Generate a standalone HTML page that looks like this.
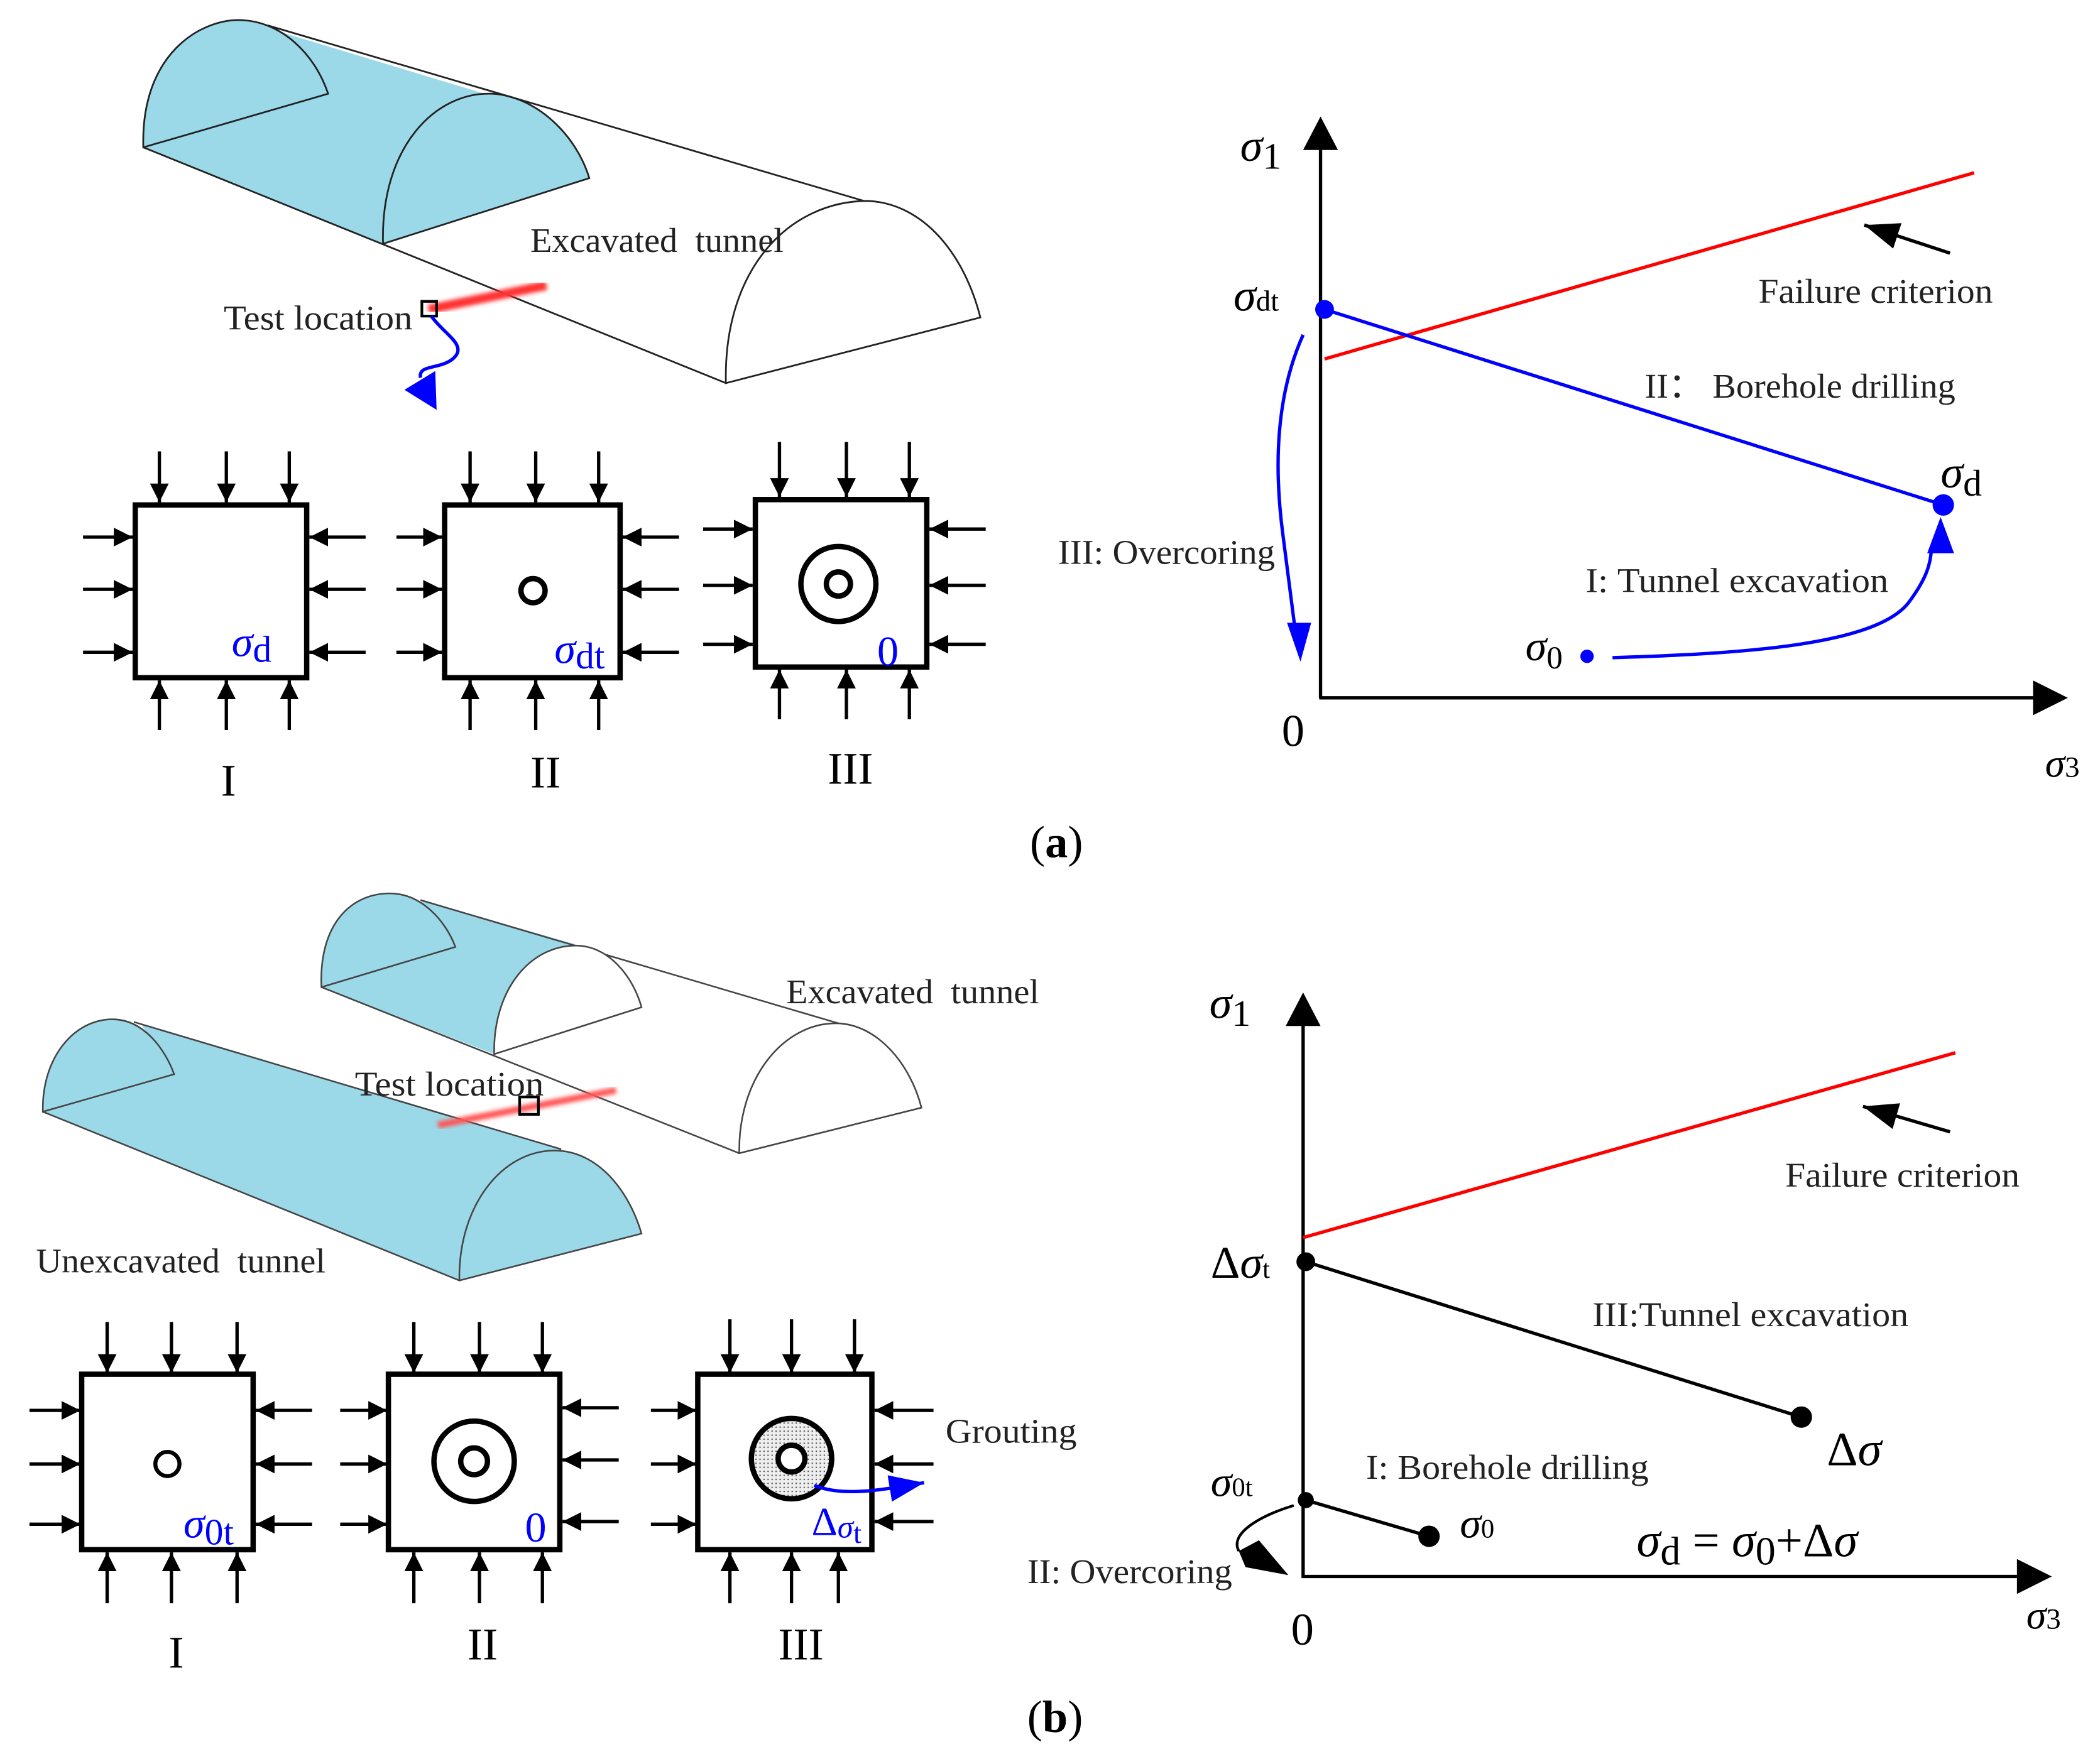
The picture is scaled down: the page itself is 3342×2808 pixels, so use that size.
<!DOCTYPE html>
<html><head><meta charset="utf-8"><style>
html,body{margin:0;padding:0;background:#fff}
svg{display:block}
text{font-family:"Liberation Serif",serif}
.t{fill:#222;font-size:26px}
.s{font-style:italic}
.b{fill:#0000ff}
</style></head><body>
<svg width="3342" height="2808" viewBox="0 0 1568 1317" preserveAspectRatio="none" xmlns="http://www.w3.org/2000/svg">
<defs>
<marker id="ah" markerUnits="userSpaceOnUse" markerWidth="16" markerHeight="16" refX="14" refY="7" orient="auto"><path d="M0,0 L14,7 L0,14 z" fill="#000"/></marker>
<marker id="ab" markerUnits="userSpaceOnUse" markerWidth="30" markerHeight="24" refX="26" refY="10" orient="auto"><path d="M0,0 L26,10 L0,20 z" fill="#0000ff"/></marker>
<marker id="ak" markerUnits="userSpaceOnUse" markerWidth="30" markerHeight="24" refX="26" refY="10" orient="auto"><path d="M0,0 L26,10 L0,20 z" fill="#000"/></marker>
<pattern id="dots" width="3" height="3" patternUnits="userSpaceOnUse"><rect width="3" height="3" fill="#eee"/><rect width="1" height="1" fill="#555"/></pattern>
<filter id="blur"><feGaussianBlur stdDeviation="1.5"/></filter>
</defs>

<!-- ===== (a) tunnel ===== -->
<path d="M107,110 C105,40 150,14 180,15 L395,80 C420,95 435,115 440,133 L286,182 Z" fill="#9bd9e9"/>
<path d="M107,110 C105,40 150,14 180,15 C210,16 235,40 245,70 Z" fill="#9bd9e9" stroke="#222" stroke-width="1.3"/>
<path d="M286,182 C284,110 325,68 368,70 C400,72 430,100 440,133 Z" fill="#9bd9e9" stroke="#222" stroke-width="1.3"/>
<path d="M200,19 L645,150 M107,110 L542,286" stroke="#222" stroke-width="1.3" fill="none"/>
<path d="M542,286 C540,200 590,150 648,150 C690,152 720,190 732,237 Z" fill="#fff" stroke="#222" stroke-width="1.3"/>
<line x1="320" y1="231" x2="408" y2="213" stroke="#f33" stroke-width="7" filter="url(#blur)"/>
<rect x="315" y="225" width="11" height="11" fill="none" stroke="#000" stroke-width="2"/>
<path d="M322,236 C332,250 350,258 338,268 C328,276 312,272 314,282" stroke="#0000ff" stroke-width="2.5" fill="none"/>
<path d="M302,291 L325,277 L326,306 Z" fill="#0000ff"/>
<text class="t" x="167" y="246" textLength="141" lengthAdjust="spacingAndGlyphs">Test location</text>
<text class="t" x="396" y="188" fill="#333" textLength="189" lengthAdjust="spacingAndGlyphs">Excavated&#160; tunnel</text>

<!-- ===== (a) boxes ===== -->
<g stroke="#000" stroke-width="2.5" marker-end="url(#ah)">
<line x1="119" y1="337" x2="119" y2="375"/><line x1="169" y1="337" x2="169" y2="375"/><line x1="216" y1="337" x2="216" y2="375"/>
<line x1="119" y1="545" x2="119" y2="508"/><line x1="169" y1="545" x2="169" y2="508"/><line x1="216" y1="545" x2="216" y2="508"/>
<line x1="62" y1="401" x2="99" y2="401"/><line x1="62" y1="440" x2="99" y2="440"/><line x1="62" y1="487" x2="99" y2="487"/>
<line x1="273" y1="401" x2="231" y2="401"/><line x1="273" y1="440" x2="231" y2="440"/><line x1="273" y1="487" x2="231" y2="487"/>

<line x1="351" y1="337" x2="351" y2="375"/><line x1="400" y1="337" x2="400" y2="375"/><line x1="447" y1="337" x2="447" y2="375"/>
<line x1="351" y1="545" x2="351" y2="508"/><line x1="400" y1="545" x2="400" y2="508"/><line x1="447" y1="545" x2="447" y2="508"/>
<line x1="296" y1="401" x2="330" y2="401"/><line x1="296" y1="440" x2="330" y2="440"/><line x1="296" y1="487" x2="330" y2="487"/>
<line x1="507" y1="401" x2="465" y2="401"/><line x1="507" y1="440" x2="465" y2="440"/><line x1="507" y1="487" x2="465" y2="487"/>

<line x1="582" y1="330" x2="582" y2="371"/><line x1="632" y1="330" x2="632" y2="371"/><line x1="679" y1="330" x2="679" y2="371"/>
<line x1="582" y1="537" x2="582" y2="500"/><line x1="632" y1="537" x2="632" y2="500"/><line x1="679" y1="537" x2="679" y2="500"/>
<line x1="525" y1="395" x2="562" y2="395"/><line x1="525" y1="437" x2="562" y2="437"/><line x1="525" y1="481" x2="562" y2="481"/>
<line x1="736" y1="395" x2="694" y2="395"/><line x1="736" y1="437" x2="694" y2="437"/><line x1="736" y1="481" x2="694" y2="481"/>
</g>
<g fill="none" stroke="#000" stroke-width="4">
<rect x="101" y="377" width="128" height="129"/>
<rect x="332" y="377" width="131" height="129"/>
<rect x="564" y="373" width="128" height="125"/>
<circle cx="398" cy="441" r="9"/>
<circle cx="626" cy="436" r="28"/><circle cx="626" cy="436" r="9"/>
</g>
<text class="b s" x="173" y="490" font-size="32">σ<tspan font-style="normal" font-size="28" dy="4">d</tspan></text>
<text class="b s" x="414" y="495" font-size="32">σ<tspan font-style="normal" font-size="28" dy="4">dt</tspan></text>
<text class="b" x="655" y="497" font-size="32">0</text>
<text x="165" y="594" font-size="34">I</text>
<text x="396" y="588" font-size="34">II</text>
<text x="618" y="585" font-size="34">III</text>
<text x="769" y="640" font-size="34">(<tspan font-weight="bold">a</tspan>)</text>

<!-- ===== (a) chart ===== -->
<line x1="986" y1="521" x2="986" y2="110" stroke="#000" stroke-width="2.5"/>
<path d="M973,112 L986,87 L999,112 Z" fill="#000"/>
<line x1="985" y1="521" x2="1518" y2="521" stroke="#000" stroke-width="2.5"/>
<path d="M1518,508 L1544,521 L1518,534 Z" fill="#000"/>
<line x1="989" y1="268" x2="1474" y2="129" stroke="#f00" stroke-width="2.5"/>
<line x1="1456" y1="189" x2="1392" y2="168" stroke="#000" stroke-width="2.5" marker-end="url(#ak)"/>
<line x1="989" y1="231" x2="1451" y2="377" stroke="#0000ff" stroke-width="2.5"/>
<circle cx="989" cy="231" r="7" fill="#0000ff"/>
<circle cx="1451" cy="377" r="8" fill="#0000ff"/>
<circle cx="1185" cy="490" r="5" fill="#0000ff"/>
<path d="M973,250 C955,290 950,340 958,400 L967,470" stroke="#0000ff" stroke-width="2.5" fill="none"/>
<path d="M961,465 L971,494 L979,465 Z" fill="#0000ff"/>
<path d="M1204,491 C1300,488 1400,482 1425,450 C1440,430 1441,420 1442,412" stroke="#0000ff" stroke-width="2.5" fill="none"/>
<path d="M1439,413 L1449,386 L1459,413 Z" fill="#0000ff"/>
<text class="s" x="926" y="120" font-size="34">σ<tspan font-style="normal" font-size="28" dy="6">1</tspan></text>
<text class="s" x="921" y="232" font-size="34">σ<tspan font-style="normal" font-size="22">dt</tspan></text>
<text x="957" y="557" font-size="34">0</text>
<text class="s" x="1527" y="580" font-size="30">σ<tspan font-style="normal" font-size="22">3</tspan></text>
<text class="t" x="1313" y="226" textLength="175" lengthAdjust="spacingAndGlyphs">Failure criterion</text>
<text class="t" x="1228" y="297" textLength="232" lengthAdjust="spacingAndGlyphs">II：&#160;Borehole drilling</text>
<text class="s" x="1449" y="364" font-size="34">σ<tspan font-style="normal" font-size="28" dy="6">d</tspan></text>
<text class="t" x="790" y="421" textLength="162" lengthAdjust="spacingAndGlyphs">III: Overcoring</text>
<text class="t" x="1184" y="442" textLength="226" lengthAdjust="spacingAndGlyphs">I:&#160;Tunnel excavation</text>
<text class="s" x="1139" y="493" font-size="32">σ<tspan font-style="normal" font-size="24" dy="6">0</tspan></text>

<!-- ===== (b) tunnels ===== -->
<path d="M240,737 C238,690 262,667 291,667 C315,667 333,688 340,707 L314,672 L440,708 C460,720 475,735 479,752 L369,787 Z" fill="#9bd9e9"/>
<path d="M240,737 C238,690 262,667 291,667 C315,667 333,688 340,707 Z" fill="#9bd9e9" stroke="#444" stroke-width="1.2"/>
<path d="M314,672 L626,764 M240,737 L552,861" stroke="#444" stroke-width="1.2" fill="none"/>
<path d="M369,787 C368,740 395,706 430,706 C455,706 473,730 479,752 Z" fill="#fff" stroke="#444" stroke-width="1.2"/>
<path d="M552,861 C551,805 585,764 624,764 C655,764 680,795 688,827 Z" fill="#fff" stroke="#444" stroke-width="1.2"/>
<path d="M32,830 C31,790 55,761 84,761 C108,761 124,785 130,802 L105,764 L419,858 L479,921 L343,956 Z" fill="#9bd9e9"/>
<path d="M32,830 C31,790 55,761 84,761 C108,761 124,785 130,802 Z" fill="#9bd9e9" stroke="#444" stroke-width="1.2"/>
<path d="M100,763 L419,858 M32,830 L343,956" stroke="#444" stroke-width="1.2" fill="none"/>
<path d="M343,956 C342,900 375,859 414,859 C447,859 470,890 479,921 Z" fill="#9bd9e9" stroke="#444" stroke-width="1.2"/>
<line x1="327" y1="840" x2="460" y2="814" stroke="#f55" stroke-width="5" filter="url(#blur)"/>
<rect x="388" y="819" width="14" height="13" fill="none" stroke="#000" stroke-width="2"/>
<text class="t" x="265" y="818" textLength="141" lengthAdjust="spacingAndGlyphs">Test location</text>
<text class="t" x="587" y="749" textLength="189" lengthAdjust="spacingAndGlyphs">Excavated&#160; tunnel</text>
<text class="t" x="27" y="950" textLength="216" lengthAdjust="spacingAndGlyphs">Unexcavated&#160; tunnel</text>

<!-- ===== (b) boxes ===== -->
<g stroke="#000" stroke-width="2.5" marker-end="url(#ah)">
<line x1="80" y1="987" x2="80" y2="1025"/><line x1="128" y1="987" x2="128" y2="1025"/><line x1="177" y1="987" x2="177" y2="1025"/>
<line x1="80" y1="1197" x2="80" y2="1159"/><line x1="128" y1="1197" x2="128" y2="1159"/><line x1="177" y1="1197" x2="177" y2="1159"/>
<line x1="22" y1="1053" x2="60" y2="1053"/><line x1="22" y1="1093" x2="60" y2="1093"/><line x1="22" y1="1138" x2="60" y2="1138"/>
<line x1="233" y1="1053" x2="191" y2="1053"/><line x1="233" y1="1093" x2="191" y2="1093"/><line x1="233" y1="1138" x2="191" y2="1138"/>

<line x1="309" y1="987" x2="309" y2="1025"/><line x1="358" y1="987" x2="358" y2="1025"/><line x1="405" y1="987" x2="405" y2="1025"/>
<line x1="309" y1="1197" x2="309" y2="1159"/><line x1="358" y1="1197" x2="358" y2="1159"/><line x1="405" y1="1197" x2="405" y2="1159"/>
<line x1="254" y1="1053" x2="289" y2="1053"/><line x1="254" y1="1093" x2="289" y2="1093"/><line x1="254" y1="1138" x2="289" y2="1138"/>
<line x1="462" y1="1051" x2="420" y2="1051"/><line x1="462" y1="1090" x2="420" y2="1090"/><line x1="462" y1="1136" x2="420" y2="1136"/>

<line x1="545" y1="985" x2="545" y2="1025"/><line x1="591" y1="985" x2="591" y2="1025"/><line x1="638" y1="985" x2="638" y2="1025"/>
<line x1="545" y1="1197" x2="545" y2="1159"/><line x1="591" y1="1197" x2="591" y2="1159"/><line x1="626" y1="1197" x2="626" y2="1159"/>
<line x1="486" y1="1053" x2="520" y2="1053"/><line x1="486" y1="1093" x2="520" y2="1093"/><line x1="486" y1="1138" x2="520" y2="1138"/>
<line x1="697" y1="1053" x2="653" y2="1053"/><line x1="697" y1="1093" x2="653" y2="1093"/><line x1="697" y1="1136" x2="653" y2="1136"/>
</g>
<g fill="none" stroke="#000" stroke-width="4">
<rect x="61" y="1026" width="128" height="131"/>
<rect x="290" y="1026" width="128" height="131"/>
<rect x="521" y="1026" width="130" height="131"/>
<circle cx="125" cy="1093" r="9" stroke-width="3"/>
<circle cx="354" cy="1091" r="30"/><circle cx="354" cy="1091" r="10"/>
<circle cx="591" cy="1089" r="30" fill="url(#dots)"/><circle cx="591" cy="1089" r="10" fill="#fff"/>
</g>
<path d="M608,1109 C630,1118 660,1112 690,1107" stroke="#0000ff" stroke-width="2.5" fill="none" marker-end="url(#ab)"/>
<text class="t" x="706" y="1077" textLength="98" lengthAdjust="spacingAndGlyphs">Grouting</text>
<text class="b s" x="137" y="1148" font-size="32">σ<tspan font-style="normal" font-size="28" dy="5">0t</tspan></text>
<text class="b" x="392" y="1151" font-size="32">0</text>
<text class="b" x="606" y="1146" font-size="30">Δ<tspan class="s" font-size="24" dy="2">σ</tspan><tspan font-size="22" dy="4">t</tspan></text>
<text x="126" y="1245" font-size="34">I</text>
<text x="349" y="1239" font-size="34">II</text>
<text x="581" y="1239" font-size="34">III</text>
<text x="767" y="1293" font-size="34">(<tspan font-weight="bold">b</tspan>)</text>

<!-- ===== (b) chart ===== -->
<line x1="973" y1="1178" x2="973" y2="764" stroke="#000" stroke-width="2.5"/>
<path d="M960,766 L973,741 L986,766 Z" fill="#000"/>
<line x1="972" y1="1177" x2="1506" y2="1177" stroke="#000" stroke-width="2.5"/>
<path d="M1506,1164 L1532,1177 L1506,1190 Z" fill="#000"/>
<line x1="973" y1="924" x2="1460" y2="786" stroke="#f00" stroke-width="2.5"/>
<line x1="1456" y1="845" x2="1391" y2="826" stroke="#000" stroke-width="2.5" marker-end="url(#ak)"/>
<line x1="975" y1="942" x2="1345" y2="1058" stroke="#000" stroke-width="2.5"/>
<circle cx="975" cy="942" r="7" fill="#000"/>
<circle cx="1345" cy="1058" r="8" fill="#000"/>
<line x1="975" y1="1120" x2="1067" y2="1147" stroke="#000" stroke-width="2.5"/>
<circle cx="975" cy="1120" r="6" fill="#000"/>
<circle cx="1067" cy="1147" r="8" fill="#000"/>
<path d="M966,1124 C940,1132 918,1145 925,1158" stroke="#000" stroke-width="2" fill="none"/>
<path d="M925,1158 L940,1150 L962,1176 L930,1170 Z" fill="#000"/>
<text class="s" x="903" y="760" font-size="34">σ<tspan font-style="normal" font-size="28" dy="6">1</tspan></text>
<text class="t" x="1333" y="886" textLength="175" lengthAdjust="spacingAndGlyphs">Failure criterion</text>
<text x="904" y="954" font-size="34">Δ<tspan class="s">σ</tspan><tspan font-size="20">t</tspan></text>
<text class="t" x="1189" y="990" textLength="236" lengthAdjust="spacingAndGlyphs">III:Tunnel excavation</text>
<text x="1364" y="1094" font-size="36">Δ<tspan class="s">σ</tspan></text>
<text class="t" x="1020" y="1104" textLength="211" lengthAdjust="spacingAndGlyphs">I:&#160;Borehole drilling</text>
<text class="s" x="904" y="1117" font-size="32">σ<tspan font-style="normal" font-size="20">0t</tspan></text>
<text class="s" x="1090" y="1148" font-size="32">σ<tspan font-style="normal" font-size="20">0</tspan></text>
<text class="s" x="1222" y="1162" font-size="36">σ<tspan font-style="normal" font-size="30" dy="6">d</tspan><tspan font-style="normal" dy="-6"> = </tspan>σ<tspan font-style="normal" font-size="30" dy="6">0</tspan><tspan font-style="normal" dy="-6">+Δ</tspan>σ</text>
<text class="t" x="767" y="1182" textLength="153" lengthAdjust="spacingAndGlyphs">II:&#160;Overcoring</text>
<text x="964" y="1228" font-size="34">0</text>
<text class="s" x="1513" y="1216" font-size="30">σ<tspan font-style="normal" font-size="22">3</tspan></text>
</svg>
</body></html>
